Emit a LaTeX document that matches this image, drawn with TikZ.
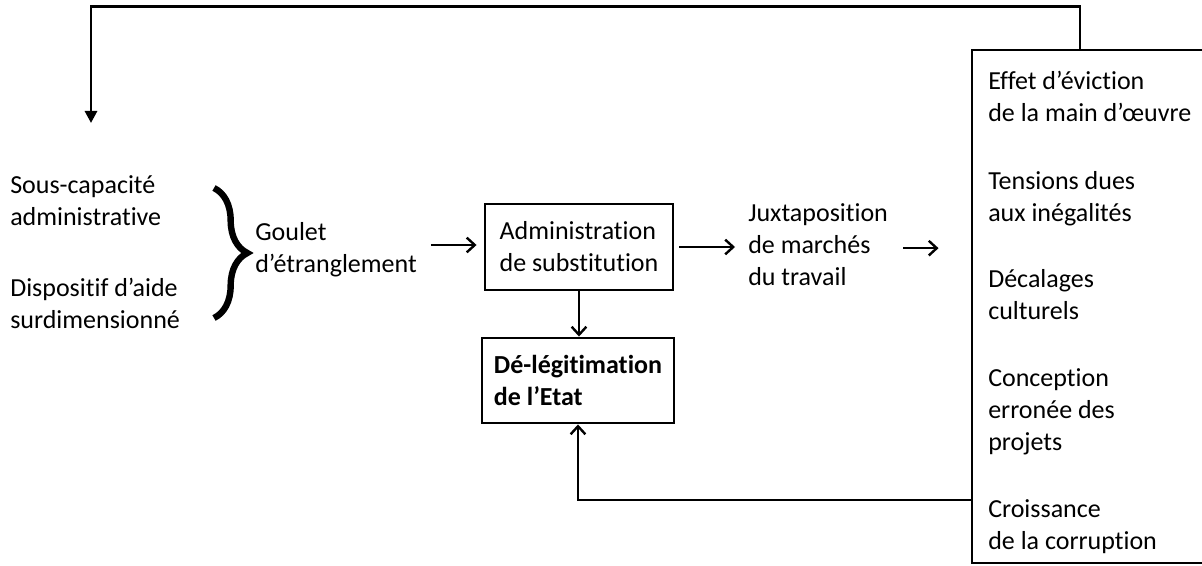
\documentclass[tikz,border=0pt]{standalone}
\usepackage{fontspec}
\setmainfont{Carlito}[Ligatures=NoCommon]
\usetikzlibrary{arrows.meta,decorations.pathreplacing,calc}
\begin{document}
\begin{tikzpicture}[x=0.75pt,y=-0.75pt,
  txt/.style={anchor=base west,align=left,inner sep=0pt,font=\fontsize{19.5}{24}\selectfont},
  boxn/.style={draw,line width=2.2pt,align=left,inner sep=0pt},
  arr/.style={line width=1.8pt,-{Straight Barb[length=6pt,width=11pt,line width=1.8pt]}},
  fb/.style={line width=2.2pt}]
\useasboundingbox (0,0) rectangle (1202,566);
\clip (0,0) rectangle (1202,566);
% left texts
\node[txt] (sous) at (10,226) {Sous-capacité\\administrative};
\node[txt] (disp) at (10,329) {Dispositif d’aide\\surdimensionné};
\draw[line width=4.8pt,decorate,decoration={brace,amplitude=25pt}] (214,188) -- (214,318);
\node[txt] (goulet) at (255,273) {Goulet\\d’étranglement};
% boxes
\node[boxn,font=\fontsize{19.5}{24}\selectfont,minimum width=141pt,minimum height=64.5pt] (admin) at (579,247) {Administration\\de substitution};
\node[boxn,font=\fontsize{19.5}{24}\selectfont\bfseries,minimum width=144pt,minimum height=63.75pt] (deleg) at (578,380.5) {Dé-légitimation\\de l’Etat};
\node[txt] (jux) at (748,286) {Juxtaposition\\de marchés\\du travail};
% right box
\node[draw,line width=2.2pt,minimum width=182.25pt,minimum height=384.75pt,inner sep=0pt] (rbox) at (1093.5,306.5) {};
\node[txt] (e1) at (988,122) {Effet d’éviction\\de la main d’œuvre};
\node[txt] (e2) at (988,222) {Tensions dues\\aux inégalités};
\node[txt] (e3) at (988,320) {Décalages\\culturels};
\node[txt] (e4) at (988,450) {Conception\\erronée des\\projets};
\node[txt] (e5) at (988,549) {Croissance\\de la corruption};
% arrows
\draw[arr] ($(goulet.east |- admin.west)+(14,-2)$) -- ($(admin.west)+(-7,-2)$);
\draw[arr] ($(admin.east)+(5,0)$) -- ($(jux.west |- admin.east)+(-13,0)$);
\draw[arr] ($(jux.east)+(15,3)$) -- ($(rbox.west |- jux.east)+(-32,3)$);
\draw[arr] (admin.south) -- (admin.south |- deleg.north);
% feedback loops
\coordinate (fbs) at (1080,50);
\coordinate (topend) at (91,123);
\coordinate (fbb) at (972,500);
\draw[fb,-{Triangle[length=9pt,width=9pt]}] (rbox.north -| fbs) -- ++(0,-42) -| (topend);
\draw[fb,-{Straight Barb[length=6pt,width=11pt,line width=1.8pt]}] (fbb) -| (deleg.south);
\end{tikzpicture}
\end{document}
